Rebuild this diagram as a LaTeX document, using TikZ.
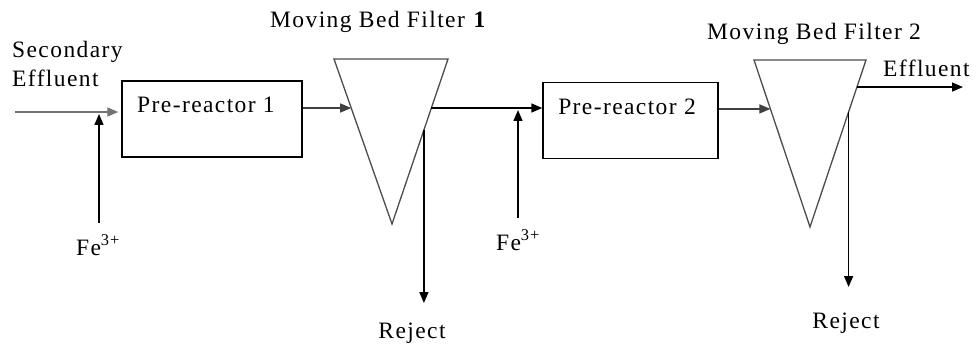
\documentclass[tikz,border=0pt]{standalone}
\usepackage{fontspec}
\setmainfont{Liberation Serif}[LetterSpace=6]
\usetikzlibrary{arrows.meta,calc}
\tikzset{
  txt/.style={inner sep=0pt, font=\fontsize{23.5}{28}\selectfont},
  box/.style={draw, line width=1.4pt, minimum width=#1, minimum height=76pt, inner sep=0pt},
  flow/.style={line width=1.4pt, -{Triangle[length=11pt,width=9pt]}},
  grayflow/.style={flow, draw=black!55, line width=1.8pt},
  filt/.style={draw=black!70, line width=1.3pt, line join=miter},
}
\begin{document}
\begin{tikzpicture}[x=1pt,y=-1pt]
\useasboundingbox (0,0) rectangle (973,347);

% labels
\node[txt, anchor=base west] (sec) at (12,58) {Secondary};
\node[txt, anchor=base west] (eff) at (12,87) {Effluent};
\node[txt, anchor=base west] (t1) at (270,28) {Moving Bed Filter \textbf{1}};
\node[txt, anchor=base west] (t2) at (707,40) {Moving Bed Filter 2};

% boxes
\node[box=180pt] (r1) at (212,119) {};
\node[txt, anchor=base] (r1t) at (206,113) {Pre-reactor 1};
\node[box=175pt] (r2) at (630.5,120.5) {};
\node[txt, anchor=base] (r2t) at (627,115) {Pre-reactor 2};

% filters
\coordinate (f1a) at (334,59);
\coordinate (f1b) at (448,59);
\coordinate (f1c) at (392,224);
\draw[filt] (f1a) -- (f1b) -- (f1c) -- cycle;
\coordinate (f2a) at (754,60);
\coordinate (f2b) at (866,60);
\coordinate (f2c) at (810,227);
\draw[filt] (f2a) -- (f2b) -- (f2c) -- cycle;

\coordinate (f1in) at ($(f1a)!0.297!(f1c)$);
\coordinate (f1out) at ($(f1b)!0.297!(f1c)$);
\coordinate (f1rej) at ($(f1b)!0.43!(f1c)$);
\coordinate (f2in) at ($(f2a)!0.293!(f2c)$);
\coordinate (f2out) at ($(f2b)!0.162!(f2c)$);
\coordinate (f2rej) at ($(f2b)!0.311!(f2c)$);

% inlet
\coordinate (inl) at (15,112);
\draw[grayflow] (inl) -- ([xshift=-3pt]inl -| r1.west);
\coordinate (fe1s) at (99,223);
\draw[flow] (fe1s) -- (99,114);
\node[txt, anchor=base] (fe1) at (98,255) {Fe\textsuperscript{3+}};

% box1 -> filter1
\draw[flow, draw=black!75] (r1.east |- f1in) -- (f1in);
% filter1 -> box2
\draw[flow] (f1out) -- (f1out -| r2.west);
\coordinate (fe2s) at (518,218);
\draw[flow] (fe2s) -- (518,110);
\node[txt, anchor=base] (fe2) at (518,250) {Fe\textsuperscript{3+}};

% reject 1
\coordinate (rj1) at (f1rej |- 0,303);
\draw[flow] (f1rej) -- (rj1);
\node[txt, anchor=base] (rej1) at (412,338) {Reject};

% box2 -> filter2
\draw[flow, draw=black!75] (r2.east |- f2in) -- (f2in);
% effluent
\coordinate (eo) at (963,0 |- f2out);
\draw[flow] (f2out) -- (eo);
\node[txt, anchor=base west] (efl) at (883,77) {Effluent};

% reject 2
\coordinate (rj2) at (f2rej |- 0,287);
\draw[flow] (f2rej) -- (rj2);
\node[txt, anchor=base] (rej2) at (846,328) {Reject};
\end{tikzpicture}
\end{document}
